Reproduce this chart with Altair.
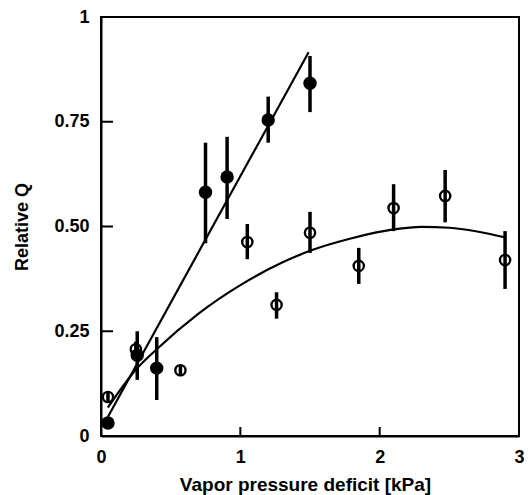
import altair as alt
import pandas as pd

# Filled circles (with error bars)
filled_x = [0.05, 0.26, 0.40, 0.75, 0.905, 1.20, 1.50]
filled_y = [0.031, 0.193, 0.162, 0.582, 0.618, 0.754, 0.842]
filled_lo = [0.031, 0.134, 0.086, 0.46, 0.518, 0.70, 0.773]
filled_hi = [0.031, 0.25, 0.236, 0.70, 0.714, 0.81, 0.907]

# Open circles (with error bars)
open_x = [0.05, 0.25, 0.57, 1.05, 1.26, 1.50, 1.85, 2.10, 2.47, 2.90]
open_y = [0.093, 0.207, 0.157, 0.463, 0.313, 0.485, 0.406, 0.544, 0.573, 0.42]
open_lo = [0.082, 0.19, 0.146, 0.422, 0.28, 0.437, 0.363, 0.489, 0.51, 0.351]
open_hi = [0.104, 0.225, 0.168, 0.506, 0.343, 0.535, 0.449, 0.601, 0.635, 0.489]

# Fitted line through filled data
lin_x = [0.05, 1.49]
lin_y = [0.046, 0.916]

# Fitted curve through open data
curve_x = [0.05, 0.25, 0.4, 0.7, 1.0, 1.3, 1.5, 1.8, 2.1, 2.3, 2.5, 2.7, 2.9]
curve_y = [0.068, 0.158, 0.207, 0.292, 0.36, 0.414, 0.442, 0.472, 0.493, 0.499, 0.497, 0.488, 0.474]

# Axis tick values
x_ticks = [0, 1, 2, 3]
y_ticks = [0, 0.25, 0.5, 0.75, 1]
x_inner_ticks = [1, 2]
y_inner_ticks = [0.25, 0.5, 0.75]

df_f = pd.DataFrame({"x": filled_x, "y": filled_y, "lo": filled_lo, "hi": filled_hi})
df_o = pd.DataFrame({"x": open_x, "y": open_y, "lo": open_lo, "hi": open_hi})
df_l = pd.DataFrame({"x": lin_x, "y": lin_y})
df_c = pd.DataFrame({"x": curve_x, "y": curve_y})
df_xt = pd.DataFrame({"x": x_inner_ticks})
df_yt = pd.DataFrame({"y": y_inner_ticks})

FONT = "Liberation Sans"
xs = alt.Scale(domain=[0, 3], nice=False, zero=False)
ys = alt.Scale(domain=[0, 1], nice=False, zero=False)

xaxis = alt.Axis(
    title="Vapor pressure deficit [kPa]", values=x_ticks, format="d", ticks=False,
    grid=False, labelPadding=12, titlePadding=9, domainWidth=2, domainColor="black",
    labelFlush=False, labelFont=FONT, labelFontSize=18, labelFontWeight="bold",
    labelColor="black", titleFont=FONT, titleFontSize=19, titleFontWeight="bold",
    titleColor="black", titleX=204,
)
yaxis = alt.Axis(
    title="Relative Q", values=y_ticks,
    labelExpr="datum.value == 0 ? '0' : (datum.value == 1 ? '1' : format(datum.value, '.2f'))",
    ticks=False, grid=False, labelPadding=12, titlePadding=22, domainWidth=2,
    domainColor="black", labelFlush=False, labelFont=FONT, labelFontSize=18,
    labelFontWeight="bold", labelColor="black", titleFont=FONT, titleFontSize=18,
    titleFontWeight="bold", titleColor="black",
)

X = alt.X("x:Q", scale=xs, axis=xaxis, title="Vapor pressure deficit [kPa]")
Y = alt.Y("y:Q", scale=ys, axis=yaxis, title="Relative Q")
YLO = alt.Y("lo:Q", scale=ys, axis=yaxis, title="Relative Q")

curve = alt.Chart(df_c).mark_line(color="black", strokeWidth=2.2, interpolate="monotone").encode(
    x=X, y=Y
)
line = alt.Chart(df_l).mark_line(color="black", strokeWidth=2.2).encode(x=X, y=Y)
open_pts = alt.Chart(df_o).mark_point(
    shape="circle", filled=False, color="black", strokeWidth=2.4, size=105, opacity=1
).encode(x=X, y=Y)
filled_pts = alt.Chart(df_f).mark_point(
    shape="circle", filled=True, color="black", size=180, opacity=1
).encode(x=X, y=Y)
open_err = alt.Chart(df_o).mark_rule(color="black", strokeWidth=3.5).encode(
    x=X, y=YLO, y2="hi:Q"
)
filled_err = alt.Chart(df_f).mark_rule(color="black", strokeWidth=3.5).encode(
    x=X, y=YLO, y2="hi:Q"
)
xtick = alt.Chart(df_xt).mark_rule(color="black", strokeWidth=2).encode(
    x=X, y=alt.value(419), y2=alt.value(410)
)
ytick = alt.Chart(df_yt).mark_rule(color="black", strokeWidth=2).encode(
    y=Y, x=alt.value(0), x2=alt.value(12)
)

chart = alt.layer(curve, line, open_pts, filled_pts, open_err, filled_err, xtick, ytick).properties(
    width=418, height=419,
    padding={"left": 101, "top": 17, "right": 11, "bottom": 59},
    autosize="none",
    background="white",
).configure_view(stroke="black", strokeWidth=2)

chart.save("out.html", embed_options={"renderer": "svg", "actions": False})
